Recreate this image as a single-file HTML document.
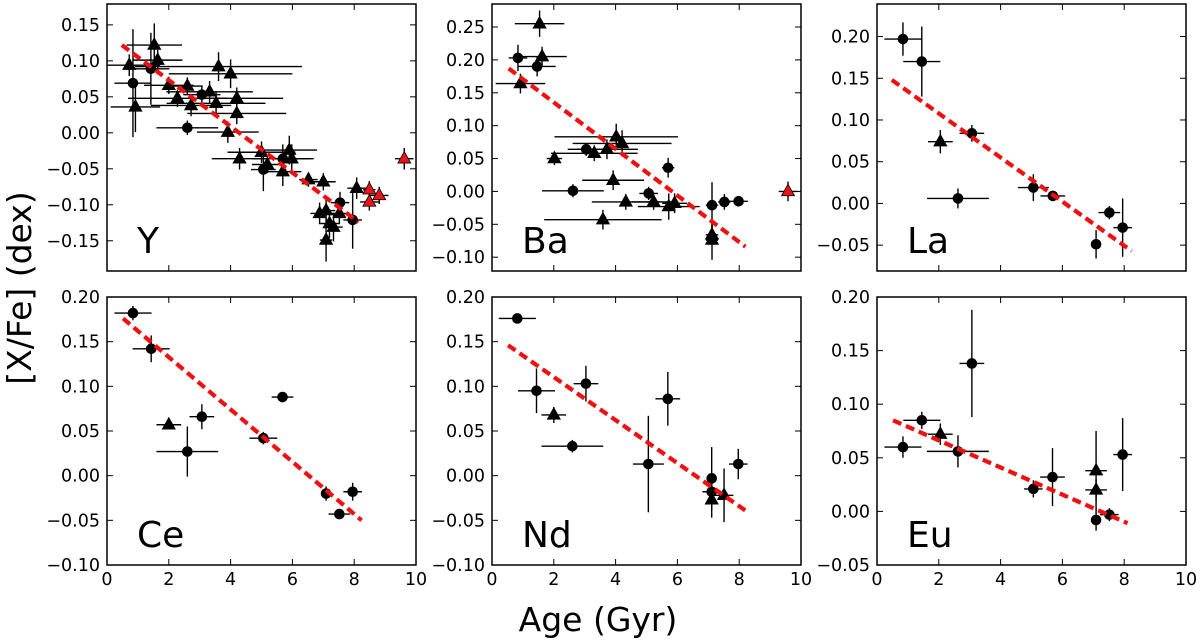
<!DOCTYPE html>
<html><head><meta charset="utf-8"><style>
body{margin:0;background:#fff;}
svg{display:block;font-family:"DejaVu Sans","Liberation Sans",sans-serif;}
</style></head><body>
<svg id="chart" width="1200" height="640" viewBox="0 0 1200 640" xmlns="http://www.w3.org/2000/svg">
<text x="598" y="631" font-size="33" text-anchor="middle">Age (Gyr)</text>
<text transform="translate(31,288) rotate(-90)" font-size="33" text-anchor="middle">[X/Fe] (dex)</text>
</svg>
<script>
// ---- data (age in Gyr, [X/Fe] in dex) ----
const yAge=[0.72,0.84,0.92,1.42,1.53,1.64,2.0,2.28,2.6,2.72,2.6,3.07,3.32,3.53,3.61,4.0,4.2,4.2,3.91,4.29,5.0,5.06,5.19,5.69,5.9,5.98,5.69,6.52,7.0,6.88,7.09,7.2,7.33,7.09,7.52,7.54,7.95,8.08,8.49,8.49,8.81,9.62];
const yVal=[0.094,0.069,0.036,0.089,0.122,0.101,0.066,0.048,0.065,0.038,0.007,0.053,0.057,0.041,0.092,0.082,0.048,0.027,0.001,-0.036,-0.027,-0.051,-0.044,-0.036,-0.024,-0.036,-0.054,-0.065,-0.068,-0.112,-0.108,-0.126,-0.131,-0.149,-0.112,-0.097,-0.121,-0.077,-0.079,-0.096,-0.087,-0.036];
const yXe=[1.0,0.6,0.8,0.6,0.9,0.8,0.8,1.6,0.5,1.3,1.0,0.6,1.4,1.6,2.7,2.0,1.5,1.6,1.0,0.9,1.1,0.4,0.5,1.0,0.9,0.6,0.6,0.3,0.4,0.3,0.3,0.3,0.3,0.2,0.3,0.3,0.3,0.3,0.2,0.3,0.3,0.3];
const yYe=[0.015,0.075,0.035,0.05,0.03,0.02,0.012,0.012,0.012,0.015,0.01,0.012,0.015,0.015,0.02,0.02,0.015,0.015,0.015,0.015,0.015,0.03,0.012,0.02,0.02,0.02,0.02,0.01,0.012,0.015,0.015,0.02,0.02,0.03,0.015,0.015,0.04,0.015,0.012,0.012,0.012,0.015];
const yMk="^o^o^^^^^^oo^^^^^^^^^o^o^^^^^^^^^^^oo^rrrr";
const yFit=[[0.48,0.122],[8.14,-0.124]];

const baAge=[0.84,1.62,1.54,1.46,0.92,2.02,2.62,3.05,3.31,3.72,4.02,4.21,3.92,3.59,4.33,5.07,5.23,5.7,5.72,5.91,7.12,7.12,7.12,7.52,7.98,9.58];
const baVal=[0.203,0.205,0.255,0.19,0.164,0.05,0.001,0.064,0.058,0.064,0.083,0.073,0.017,-0.043,-0.016,-0.003,-0.016,0.036,-0.023,-0.018,-0.021,-0.066,-0.074,-0.016,-0.015,0.0];
const baXe=[0.3,0.8,0.8,0.6,0.8,0.25,1.0,0.6,1.4,1.0,2.0,1.6,1.0,1.9,1.1,0.3,0.7,0.2,1.0,0.4,0.2,0.2,0.2,0.2,0.3,0.3];
const baYe=[0.02,0.015,0.02,0.015,0.015,0.01,0.01,0.01,0.012,0.015,0.02,0.02,0.015,0.015,0.012,0.01,0.012,0.015,0.02,0.015,0.035,0.015,0.03,0.012,0.008,0.015];
const baMk="o^^o^^oo^^^^^^^o^o^^o^^oor";
const baFit=[[0.54,0.187],[8.2,-0.084]];

const laAge=[0.84,1.45,2.05,2.62,3.07,5.06,5.69,7.09,7.52,7.95];
const laVal=[0.197,0.17,0.074,0.006,0.084,0.019,0.009,-0.049,-0.011,-0.029];
const laXe=[0.6,0.6,0.4,1.0,0.4,0.5,0.4,0.1,0.35,0.3];
const laYe=[0.02,0.042,0.014,0.012,0.01,0.016,0.005,0.017,0.008,0.035];
const laMk="oo^ooooooo";
const laFit=[[0.48,0.148],[8.24,-0.057]];

const ceAge=[0.84,1.43,2.0,3.07,2.6,5.06,5.68,7.09,7.52,7.95];
const ceVal=[0.182,0.142,0.057,0.066,0.027,0.042,0.088,-0.02,-0.043,-0.018];
const ceXe=[0.6,0.6,0.4,0.4,1.0,0.45,0.35,0.1,0.35,0.3];
const ceYe=[0.008,0.015,0.005,0.014,0.028,0.007,0.004,0.008,0.005,0.01];
const ceMk="oo^ooooooo";
const ceFit=[[0.52,0.176],[8.24,-0.05]];

const ndAge=[0.82,1.44,2.0,2.6,3.04,5.06,5.69,7.11,7.11,7.11,7.51,7.97];
const ndVal=[0.176,0.095,0.068,0.033,0.103,0.013,0.086,-0.003,-0.018,-0.027,-0.022,0.013];
const ndXe=[0.6,0.6,0.4,1.0,0.4,0.5,0.4,0.1,0.3,0.1,0.3,0.3];
const ndYe=[0.004,0.025,0.009,0.007,0.02,0.054,0.03,0.035,0.01,0.02,0.03,0.017];
const ndMk="oo^oooooo^^o";
const ndFit=[[0.52,0.146],[8.2,-0.039]];

const euAge=[0.84,1.45,2.05,2.62,3.07,5.06,5.68,7.09,7.09,7.09,7.52,7.95];
const euVal=[0.06,0.085,0.072,0.056,0.138,0.021,0.032,0.038,0.02,-0.008,-0.003,0.053];
const euXe=[0.6,0.6,0.4,1.0,0.4,0.3,0.4,0.35,0.35,0.1,0.3,0.3];
const euYe=[0.01,0.008,0.01,0.015,0.05,0.008,0.027,0.037,0.01,0.01,0.006,0.034];
const euMk="oo^oooo^^ooo";
const euFit=[[0.52,0.085],[8.11,-0.011]];

const xTicks=[0,2,4,6,8,10];
const yTicksY=[-0.15,-0.10,-0.05,0.00,0.05,0.10,0.15];
const yTicksBa=[-0.10,-0.05,0.00,0.05,0.10,0.15,0.20,0.25];
const yTicksLa=[-0.05,0.00,0.05,0.10,0.15,0.20];
const yTicksCe=[-0.10,-0.05,0.00,0.05,0.10,0.15,0.20];
const yTicksEu=[-0.05,0.00,0.05,0.10,0.15,0.20];

const svg=document.getElementById('chart');
const NS='http://www.w3.org/2000/svg';
function mk(tag,attrs,parent){const e=document.createElementNS(NS,tag);for(const k in attrs)e.setAttribute(k,attrs[k]);(parent||svg).appendChild(e);return e;}
function fmt(v){const s=Math.abs(v).toFixed(2);return (v< -1e-9?'\u2212':'')+s;}

const panels=[
 {name:'Y',l:107,r:416,t:4,b:271,ymin:-0.192,ymax:0.179,ticks:yTicksY,age:yAge,val:yVal,xe:yXe,ye:yYe,mk:yMk,fit:yFit,xl:false},
 {name:'Ba',l:492,r:801,t:4,b:271,ymin:-0.121,ymax:0.285,ticks:yTicksBa,age:baAge,val:baVal,xe:baXe,ye:baYe,mk:baMk,fit:baFit,xl:false},
 {name:'La',l:877,r:1186,t:4,b:271,ymin:-0.081,ymax:0.239,ticks:yTicksLa,age:laAge,val:laVal,xe:laXe,ye:laYe,mk:laMk,fit:laFit,xl:false},
 {name:'Ce',l:107,r:416,t:297,b:565,ymin:-0.10,ymax:0.20,ticks:yTicksCe,age:ceAge,val:ceVal,xe:ceXe,ye:ceYe,mk:ceMk,fit:ceFit,xl:true},
 {name:'Nd',l:492,r:801,t:297,b:565,ymin:-0.10,ymax:0.20,ticks:yTicksCe,age:ndAge,val:ndVal,xe:ndXe,ye:ndYe,mk:ndMk,fit:ndFit,xl:true},
 {name:'Eu',l:877,r:1186,t:297,b:565,ymin:-0.05,ymax:0.20,ticks:yTicksEu,age:euAge,val:euVal,xe:euXe,ye:euYe,mk:euMk,fit:euFit,xl:true}
];

panels.forEach(p=>{
 const g=mk('g',{});
 
 
 const X=v=>p.l+(v-0)/(10-0)*(p.r-p.l);
 const Y=v=>p.b-(v-p.ymin)/(p.ymax-p.ymin)*(p.b-p.t);
 const clip='clip-'+p.name;
 const cp=mk('clipPath',{id:clip},g);mk('rect',{x:p.l,y:p.t,width:p.r-p.l,height:p.b-p.t},cp);
 const data=mk('g',{'clip-path':'url(#'+clip+')'},g);
 p.age.forEach((a,i)=>{
  const eb=mk('g',{stroke:'#000','stroke-width':1.4},data);
  
  
  mk('line',{x1:X(a-p.xe[i]),x2:X(a+p.xe[i]),y1:Y(p.val[i]),y2:Y(p.val[i])},eb);
  mk('line',{x1:X(a),x2:X(a),y1:Y(p.val[i]-p.ye[i]),y2:Y(p.val[i]+p.ye[i])},eb);
 });
 p.age.forEach((a,i)=>{
  const cx=X(a),cy=Y(p.val[i]),m=p.mk[i];
  let el;
  if(m==='o'){el=mk('circle',{cx:cx,cy:cy,r:5.3,fill:'#000'},data);}
  else{const s=7.2;el=mk('polygon',{points:`${cx},${cy-s} ${cx-s*0.9},${cy+s*0.6} ${cx+s*0.9},${cy+s*0.6}`,fill:m==='r'?'#e8141a':'#000',stroke:'#000','stroke-width':0.8},data);}
  
  
 });
 const fl=mk('line',{x1:X(p.fit[0][0]),y1:Y(p.fit[0][1]),x2:X(p.fit[1][0]),y2:Y(p.fit[1][1]),stroke:'#f01010','stroke-width':4.2,'stroke-dasharray':'9,5'},data);
 
 
 const fr=mk('rect',{x:p.l,y:p.t,width:p.r-p.l,height:p.b-p.t,fill:'none',stroke:'#000','stroke-width':1.5},g);
 
 
 xTicks.forEach(t=>{
  const x=X(t);
  mk('line',{x1:x,x2:x,y1:p.b,y2:p.b-6,stroke:'#000','stroke-width':1},g);
  mk('line',{x1:x,x2:x,y1:p.t,y2:p.t+6,stroke:'#000','stroke-width':1},g);
  if(p.xl){const tl=mk('text',{x:x,y:p.b+20,'font-size':17.5,'text-anchor':'middle'},g);tl.textContent=String(t);
   
   }
 });
 p.ticks.forEach(t=>{
  const y=Y(t);
  mk('line',{x1:p.l,x2:p.l+6,y1:y,y2:y,stroke:'#000','stroke-width':1},g);
  mk('line',{x1:p.r,x2:p.r-6,y1:y,y2:y,stroke:'#000','stroke-width':1},g);
  const tl=mk('text',{x:p.l-7,y:y+6,'font-size':17.5,'text-anchor':'end'},g);tl.textContent=fmt(t);
  
  
 });
 const lb=mk('text',{x:p.l+30,y:p.b-18,'font-size':36},g);lb.textContent=p.name;
 
 
});
</script>
</body></html>
